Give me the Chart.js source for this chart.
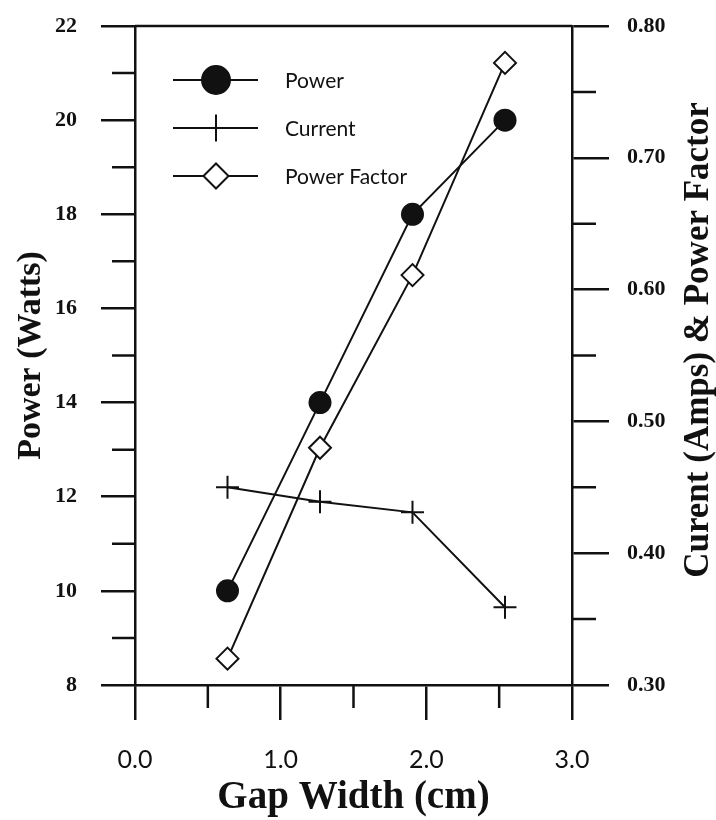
<!DOCTYPE html>
<html>
<head>
<meta charset="utf-8">
<script src="https://cdn.jsdelivr.net/npm/chart.js@4/dist/chart.umd.min.js"></script>
<style>
  html, body { margin: 0; padding: 0; background: #fff; }
  canvas { display: block; }
</style>
</head>
<body>
<canvas id="c" width="716" height="820"></canvas>
<script>
// ---- data ----
const gapWidth = [0.635, 1.27, 1.905, 2.54];          // cm
const powerWatts = [10, 14, 18, 20];                   // left axis
const currentAmps = [0.450, 0.439, 0.431, 0.359];      // right axis
const powerFactor = [0.320, 0.480, 0.611, 0.772];      // right axis
const seriesLabels = ['Power', 'Current', 'Power Factor'];
const xTitle = 'Gap Width (cm)';
const yLeftTitle = 'Power (Watts)';
const yRightTitle = 'Curent (Amps) & Power Factor';
const xMinorTicks = [0.5, 1.5, 2.5];
const yLeftMinorTicks = [9, 11, 13, 15, 17, 19, 21];
const yRightMinorTicks = [0.35, 0.45, 0.55, 0.65, 0.75];

const INK = '#111';
const SERIF = '"Liberation Serif", "DejaVu Serif", serif';
const SANS = 'Lato, "Open Sans", sans-serif';

function pts(xs, ys) { return xs.map((x, i) => ({x: x, y: ys[i]})); }

function drawDecor(chart) {
  const ctx = chart.ctx;
  const ca = chart.chartArea;
  const sx = chart.scales.x, sy = chart.scales.y, sy1 = chart.scales.y1;
  ctx.save();
  ctx.strokeStyle = INK;
  ctx.lineWidth = 2.5;
  // top frame line
  ctx.beginPath();
  ctx.moveTo(ca.left, ca.top);
  ctx.lineTo(ca.right, ca.top);
  ctx.stroke();
  // minor ticks
  ctx.beginPath();
  xMinorTicks.forEach(v => { const p = sx.getPixelForValue(v); ctx.moveTo(p, ca.bottom); ctx.lineTo(p, ca.bottom + 23); });
  yLeftMinorTicks.forEach(v => { const p = sy.getPixelForValue(v); ctx.moveTo(ca.left, p); ctx.lineTo(ca.left - 23, p); });
  yRightMinorTicks.forEach(v => { const p = sy1.getPixelForValue(v); ctx.moveTo(ca.right, p); ctx.lineTo(ca.right + 24, p); });
  ctx.stroke();

  // right axis title (reads bottom to top)
  ctx.fillStyle = INK;
  ctx.font = 'bold 35px ' + SERIF;
  ctx.textAlign = 'center';
  ctx.textBaseline = 'middle';
  ctx.translate(699, 340);
  ctx.rotate(-Math.PI / 2);
  ctx.fillText(yRightTitle, 0, 0);
  ctx.restore();

  // legend
  const rows = [80, 128, 176];
  const lx0 = 173, lx1 = 258, mx = 216, tx = 285;
  chart.data.datasets.forEach((ds, i) => {
    const y = rows[i];
    ctx.save();
    ctx.strokeStyle = INK;
    ctx.lineWidth = 2;
    ctx.beginPath();
    ctx.moveTo(lx0, y); ctx.lineTo(lx1, y);
    ctx.stroke();
    ctx.fillStyle = ds.legendFill;
    ctx.strokeStyle = INK;
    ctx.lineWidth = 2;
    Chart.helpers.drawPoint(ctx, {
      pointStyle: ds.pointStyle,
      radius: ds.legendRadius,
      borderWidth: 2
    }, mx, y);
    ctx.fillStyle = INK;
    ctx.font = '21px ' + SANS;
    ctx.textAlign = 'left';
    ctx.textBaseline = 'middle';
    ctx.fillText(ds.label, tx, y + 1);
    ctx.restore();
  });
}

const chart = new Chart(document.getElementById('c'), {
  type: 'scatter',
  data: {
    datasets: [
      {
        label: seriesLabels[0],
        data: pts(gapWidth, powerWatts),
        yAxisID: 'y',
        showLine: true,
        borderColor: INK,
        borderWidth: 2,
        pointStyle: 'circle',
        pointRadius: 11.5,
        pointBackgroundColor: INK,
        pointBorderColor: INK,
        pointBorderWidth: 0,
        legendRadius: 14,
        legendFill: INK
      },
      {
        label: seriesLabels[1],
        data: pts(gapWidth, currentAmps),
        yAxisID: 'y1',
        showLine: true,
        borderColor: INK,
        borderWidth: 2,
        pointStyle: 'cross',
        pointRadius: 11.5,
        pointBackgroundColor: INK,
        pointBorderColor: INK,
        pointBorderWidth: 2,
        legendRadius: 13.5,
        legendFill: INK
      },
      {
        label: seriesLabels[2],
        data: pts(gapWidth, powerFactor),
        yAxisID: 'y1',
        showLine: true,
        borderColor: INK,
        borderWidth: 2,
        pointStyle: 'rectRot',
        pointRadius: 11,
        pointBackgroundColor: '#fff',
        pointBorderColor: INK,
        pointBorderWidth: 2,
        legendRadius: 12.5,
        legendFill: '#fff'
      }
    ]
  },
  options: {
    responsive: false,
    animation: false,
    devicePixelRatio: 1,
    layout: { padding: { top: 26, left: 0, right: 0, bottom: 0 } },
    plugins: { legend: { display: false }, tooltip: { enabled: false } },
    scales: {
      x: {
        type: 'linear',
        position: 'bottom',
        min: 0, max: 3,
        afterFit(s) { s.height = 135; s.paddingLeft = 0; s.paddingRight = 0; },
        ticks: {
          stepSize: 1,
          color: INK,
          padding: 25,
          font: { family: SANS, size: 25, lineHeight: 1.2 },
          callback: v => Number(v).toFixed(1)
        },
        grid: { drawOnChartArea: false, drawTicks: true, tickLength: 35, lineWidth: 2.5, color: INK },
        border: { display: true, color: INK, width: 2.5 },
        title: {
          display: true, text: xTitle, color: INK,
          font: { family: SERIF, size: 39, weight: 'bold', lineHeight: 1 },
          padding: { top: 0, bottom: 3 }
        }
      },
      y: {
        type: 'linear',
        position: 'left',
        min: 8, max: 22,
        afterFit(s) { s.width = 135; s.paddingTop = 0; s.paddingBottom = 0; },
        ticks: {
          stepSize: 2,
          color: INK,
          padding: 24,
          font: { family: SERIF, size: 22, weight: 'bold' }
        },
        grid: { drawOnChartArea: false, drawTicks: true, tickLength: 34, lineWidth: 2.5, color: INK },
        border: { display: true, color: INK, width: 2.5 },
        title: {
          display: true, text: yLeftTitle, color: INK,
          font: { family: SERIF, size: 34, weight: 'bold', lineHeight: 1 },
          padding: { top: 14, bottom: 0 }
        }
      },
      y1: {
        type: 'linear',
        position: 'right',
        min: 0.3, max: 0.8,
        afterFit(s) { s.width = 144; s.paddingTop = 0; s.paddingBottom = 0; },
        ticks: {
          stepSize: 0.1,
          color: INK,
          padding: 18,
          font: { family: SERIF, size: 22, weight: 'bold' },
          callback: v => Number(v).toFixed(2)
        },
        grid: { drawOnChartArea: false, drawTicks: true, tickLength: 37, lineWidth: 2.5, color: INK },
        border: { display: true, color: INK, width: 2.5 },
        title: { display: false }
      }
    }
  },
  plugins: [{ id: 'decor', afterDraw: drawDecor }]
});
</script>
</body>
</html>
